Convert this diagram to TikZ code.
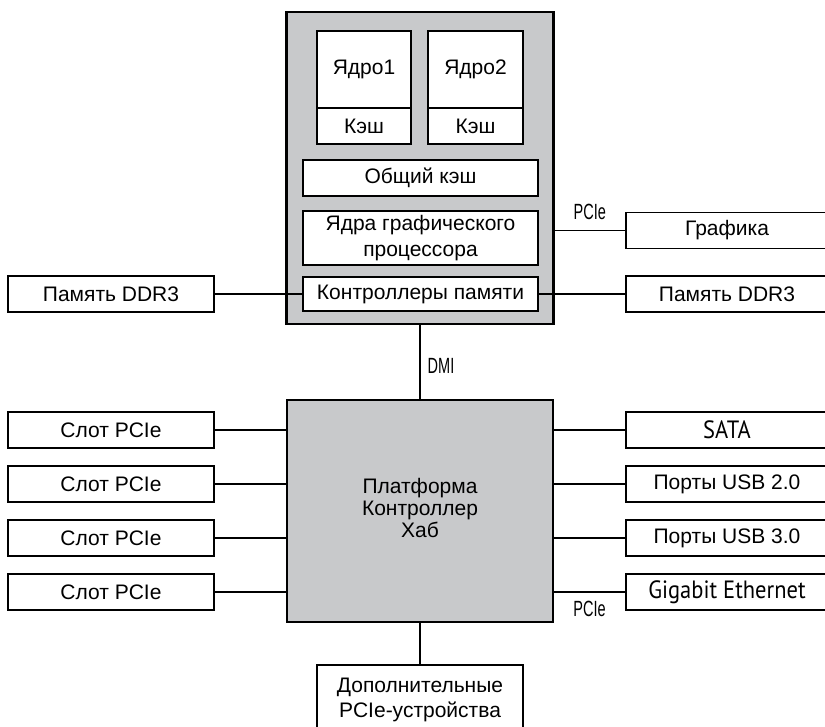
\documentclass[tikz,border=0pt]{standalone}
\usepackage{fontspec}
\setmainfont{Liberation Sans}
\newfontfamily\narrowfont[FakeStretch=0.66]{Liberation Sans}
\newfontfamily\ptfont[FakeStretch=0.9]{PT Sans}
\usepackage{tikz}
\usetikzlibrary{positioning}
\usepackage{xcolor}
\definecolor{chipgray}{RGB}{200,201,203}

\begin{document}
\begin{tikzpicture}[x=1pt,y=-1pt,node distance=18pt,
    box/.style={draw,fill=white,line width=1.6pt,inner sep=0pt,outer sep=0pt,minimum height=36pt,align=center,font=\fontsize{21}{25.5}\selectfont},
    chip/.style={draw,fill=chipgray,line width=2.2pt,inner sep=0pt,outer sep=0pt,align=center,font=\fontsize{21}{25.5}\selectfont},
    side/.style={box,minimum width=206pt},
    rside/.style={box,minimum width=202pt,anchor=west},
    wire/.style={line width=1.4pt},
    lbl/.style={inner sep=0pt,font=\narrowfont\fontsize{22}{22}\selectfont}]
    \useasboundingbox (0,0) rectangle (825,726);
    \clip (0,0) rectangle (825,726);
    % processor
    \node[chip,minimum width=267pt,minimum height=312pt] (cpu) at (420,168) {};
    \node[box,minimum width=94pt,minimum height=77pt] (core1) at (364,69.5) {Ядро1};
    \node[box,minimum width=94pt] (cache1) [below=0pt of core1] {Кэш};
    \node[box,minimum width=95pt,minimum height=77pt] (core2) at (475.5,69.5) {Ядро2};
    \node[box,minimum width=95pt] (cache2) [below=0pt of core2] {Кэш};
    \node[box,minimum width=235pt] (l3) at (420.5,178) {Общий кэш};
    \node[box,minimum width=235pt,minimum height=54pt] (gpu) [below=15pt of l3] {Ядра графического\\процессора};
    \node[box,minimum width=235pt,minimum height=34pt] (memctl) [below=12pt of gpu] {Контроллеры памяти};
    \node[side] (ddrL) at (111,294) {Память DDR3};
    \node[rside] (gfx) at (626,230.5) {Графика};
    \node[rside] (ddrR) at (626,294) {Память DDR3};
    % hub
    \node[chip,minimum width=266pt,minimum height=222pt] (pch) at (420,511) {\raisebox{6pt}{\shortstack{Платформа\\Контроллер\\Хаб}}};
    \node[side] (slot1) at (111,430) {Слот PCIe};
    \node[side] (slot2) [below=of slot1] {Слот PCIe};
    \node[side] (slot3) [below=of slot2] {Слот PCIe};
    \node[side] (slot4) [below=of slot3] {Слот PCIe};
    \node[rside] (sata) at (626,430) {\ptfont\fontsize{25}{25}\selectfont SATA};
    \node[rside] (usb2) [below=of sata] {Порты USB 2.0};
    \node[rside] (usb3) [below=of usb2] {Порты USB 3.0};
    \node[rside] (gbe) [below=of usb3] {\ptfont\fontsize{25}{25}\selectfont Gigabit Ethernet};
    \node[box,minimum width=206pt,minimum height=70pt] (extra) at (420,700) {Дополнительные\\PCIe-устройства};
    % links
    \draw[wire] (ddrL) -- (memctl);
    \draw[wire] (memctl) -- (ddrR);
    \draw[wire] (gfx.west -| cpu.east) -- node[lbl,above=10pt] {PCIe} (gfx);
    \draw[wire] (cpu.south) -- node[lbl,right=7pt,pos=0.55] {DMI} (pch.north);
    \draw[wire] (pch) -- (extra);
    \foreach \s in {slot1,slot2,slot3,slot4}
        \draw[wire] (\s) -- (\s.east -| pch.west);
    \foreach \p in {sata,usb2,usb3}
        \draw[wire] (pch.east |- \p.west) -- (\p);
    \draw[wire] (pch.east |- gbe.west) -- node[lbl,below=8pt] {PCIe} (gbe);
\end{tikzpicture}
\end{document}
